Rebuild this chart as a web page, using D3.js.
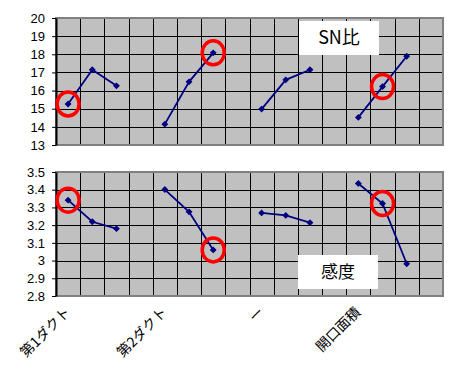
<!DOCTYPE html>
<html><head><meta charset="utf-8">
<script src="https://cdn.jsdelivr.net/npm/d3@7/dist/d3.min.js"></script>
<style>
html,body{margin:0;padding:0;background:#fff;}
svg{display:block;}
</style></head>
<body>
<svg id="chart" width="456" height="366"></svg>
<script>
// ---- data ----
const categories = ["第1ダクト","","","","第2ダクト","","","","ー","","","","開口面積","","",""];
const snValues = [15.26,17.15,16.26,null, 14.15,16.48,18.08,null, 14.98,16.59,17.15,null, 14.52,16.22,17.89,null];
const sensValues = [3.341,3.219,3.180,null, 3.401,3.275,3.060,null, 3.269,3.255,3.214,null, 3.435,3.322,2.982,null];
const snTicks = [13,14,15,16,17,18,19,20];
const sensTicks = [2.8,2.9,3,3.1,3.2,3.3,3.4,3.5];
const highlightIdx = [0,6,13];
const snTitle = "SN比";
const sensTitle = "感度";

const svg = d3.select("#chart");
const left = 56, right = 443;
const x = d3.scaleBand().domain(d3.range(categories.length)).range([left, right]).paddingInner(0).paddingOuter(0);
const cx = i => x(i) + x.bandwidth()/2;

function panel(values, ticks, yRange, domain, title, titleBox) {
  const y = d3.scaleLinear().domain(domain).range(yRange);
  const g = svg.append("g");
  const top = yRange[1], bot = yRange[0];
  g.append("rect").attr("x", left).attr("y", top).attr("width", right-left).attr("height", bot-top)
    .attr("fill", "#c0c0c0");
  g.selectAll(".hg").data(ticks).join("line")
    .attr("x1", left).attr("x2", right)
    .attr("y1", d => Math.round(y(d))+0.5).attr("y2", d => Math.round(y(d))+0.5)
    .attr("stroke", "#000").attr("stroke-width", 1);
  g.selectAll(".vg").data(d3.range(1, categories.length)).join("line")
    .attr("x1", d => Math.round(x(d))+0.5).attr("x2", d => Math.round(x(d))+0.5)
    .attr("y1", top).attr("y2", bot)
    .attr("stroke", "#000").attr("stroke-width", 1);
  g.append("rect").attr("x", left).attr("y", top).attr("width", right-left).attr("height", bot-top)
    .attr("fill", "none").attr("stroke", "#808080").attr("stroke-width", 2);
  g.append("rect").attr("x", titleBox[0]).attr("y", titleBox[1]).attr("width", titleBox[2]).attr("height", titleBox[3])
    .attr("fill", "#fff");
  g.append("text").attr("x", titleBox[0]+titleBox[2]/2).attr("y", titleBox[1]+titleBox[3]/2+6)
    .attr("text-anchor", "middle").attr("font-family", "'Noto Sans CJK JP', sans-serif")
    .attr("font-size", titleBox[4]).attr("fill", "#000").text(title);
  const ax = g.append("g").attr("transform", `translate(${left},0)`)
    .call(d3.axisLeft(y).tickValues(ticks).tickSize(4).tickSizeOuter(0).tickPadding(7).tickFormat(d => String(d)));
  ax.select(".domain").attr("stroke", "#000").attr("stroke-width", 2);
  ax.selectAll(".tick line").attr("stroke", "#000");
  ax.selectAll(".tick text").attr("font-family", "'Liberation Sans', Arial, sans-serif").attr("font-size", 13).attr("fill", "#000");
  const line = d3.line().defined(d => d != null).x((d, i) => cx(i)).y(d => y(d));
  g.append("path").datum(values).attr("d", line).attr("fill", "none")
    .attr("stroke", "#000080").attr("stroke-width", 1.8);
  g.selectAll(".m").data(values.map((v, i) => ({v, i})).filter(d => d.v != null)).join("path")
    .attr("d", d3.symbol(d3.symbolDiamond2, 30))
    .attr("transform", d => `translate(${cx(d.i)},${y(d.v)})`)
    .attr("fill", "#000080");
  g.selectAll(".c").data(highlightIdx).join("ellipse")
    .attr("cx", i => cx(i)).attr("cy", i => y(values[i]))
    .attr("rx", 11).attr("ry", 12).attr("fill", "none").attr("stroke", "#ff0000").attr("stroke-width", 3.5);
}

panel(snValues, snTicks, [145, 18], [13, 20], snTitle, [299, 21, 80, 34, 18]);
panel(sensValues, sensTicks, [296, 172], [2.8, 3.5], sensTitle, [298, 255, 80, 34, 17]);

svg.selectAll(".xl").data(categories.map((c, i) => ({c, i})).filter(d => d.c)).join("text")
  .attr("transform", d => `translate(${cx(d.i)+3},${313}) rotate(-45)`)
  .attr("text-anchor", "end").attr("font-family", "'Noto Sans CJK JP', sans-serif")
  .attr("font-size", 14).attr("fill", "#000").text(d => d.c);
</script>
</body></html>
